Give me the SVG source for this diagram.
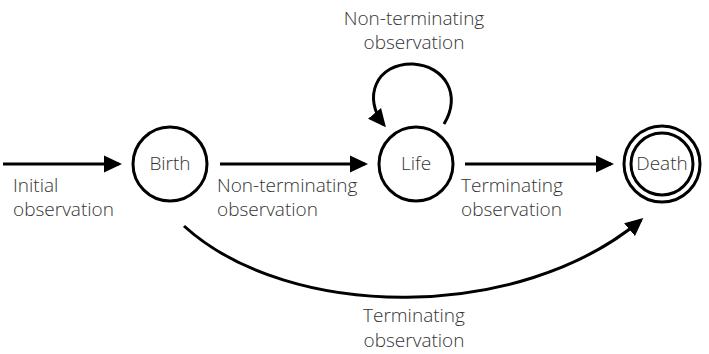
<svg xmlns="http://www.w3.org/2000/svg" width="709" height="354" viewBox="0 0 709 354">
<defs>
<marker id="ah" markerWidth="6" markerHeight="6" refX="5" refY="3" orient="auto" markerUnits="strokeWidth">
<path d="M0,0.2 L6,3 L0,5.8 Z" fill="#000"/>
</marker>
<style>
.st{fill:none;stroke:#000;stroke-width:3}
.e{fill:none;stroke:#000;stroke-width:3;marker-end:url(#ah)}
text{font-family:"Open Sans","Noto Sans","Liberation Sans",sans-serif;font-weight:300;font-size:19px;fill:#333}
.m{text-anchor:middle}
</style>
</defs>
<g id="connectors">
<path class="e" d="M3,164 L119,164"/>
<path class="e" d="M220,164 L365,164"/>
<path class="e" d="M465,164 L611,164"/>
<path class="e" d="M444,124 C462,95 445,66 413,64 C376,63 362,98 384,125"/>
<path class="e" d="M184,226 C290,322 520,322 641,220"/>
</g>
<g id="initial-label">
<text x="13" y="192">Initial</text>
<text x="13" y="216">observation</text>
</g>
<g id="birth">
<circle class="st" cx="170" cy="164" r="37"/>
<text x="170" y="170" class="m">Birth</text>
</g>
<g id="life">
<circle class="st" cx="416" cy="164" r="37"/>
<text x="416" y="170" class="m">Life</text>
</g>
<g id="death">
<circle class="st" cx="662" cy="164" r="38"/>
<circle class="st" cx="662" cy="164" r="31"/>
<text x="662" y="170" class="m">Death</text>
</g>
<g id="labels">
<text x="217" y="192">Non-terminating</text>
<text x="217" y="216">observation</text>
<text x="461" y="192">Terminating</text>
<text x="461" y="216">observation</text>
<text x="414" y="25" class="m">Non-terminating</text>
<text x="414" y="49" class="m">observation</text>
<text x="414" y="322" class="m">Terminating</text>
<text x="414" y="347" class="m">observation</text>
</g>
</svg>
